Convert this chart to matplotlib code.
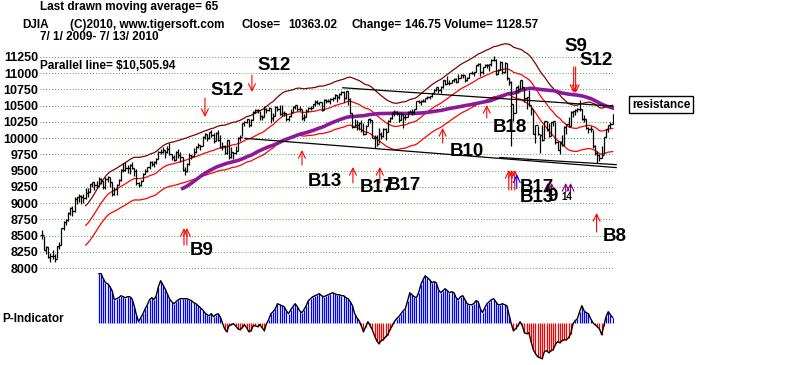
import matplotlib.pyplot as plt
import numpy as np

plt.rcParams['font.family'] = ['Liberation Sans', 'DejaVu Sans']
plt.rcParams['font.weight'] = 'bold'

# DJIA daily bars, 7/1/2009 - 7/13/2010
closes = [
    8504, 8280, 8324, 8163, 8178, 8183, 8146, 8332, 8359, 8616, 8712, 8743, 8848, 8916, 8881, 9069, 9093, 9108, 9096, 9070, 9154, 9172,
    9286, 9320, 9280, 9256, 9370, 9337, 9241, 9362, 9398, 9321, 9135, 9218, 9279, 9350, 9506, 9509, 9539, 9543, 9580, 9544, 9496,
    9310, 9280, 9344, 9441, 9497, 9547, 9627, 9605, 9626, 9683, 9792, 9784, 9820, 9778, 9829, 9748, 9707, 9665, 9789, 9742, 9712,
    9509, 9487, 9599, 9731, 9725, 9786, 9865, 9885, 9871, 10015, 10063, 9996, 10092, 10041, 9949, 10081, 9972, 9868, 9882, 9762, 9962, 9713,
    9789, 9771, 9802, 10005, 10023, 10226, 10247, 10291, 10197, 10270, 10406, 10437, 10426, 10332, 10318, 10450, 10433, 10464, 10309, 10345,
    10471, 10452, 10366, 10389, 10390, 10286, 10337, 10405, 10471, 10501, 10452, 10441, 10308, 10329, 10414, 10464, 10467, 10520, 10547, 10545, 10548, 10428,
    10583, 10572, 10574, 10607, 10618, 10663, 10628, 10681, 10711, 10610, 10725, 10604, 10389, 10173, 10196, 10194, 10236, 10120, 10067,
    10185, 10297, 10270, 10002, 10012, 9908, 10058, 10038, 10144, 10099, 10268, 10309, 10392, 10403, 10383, 10282, 10374, 10321, 10325,
    10403, 10405, 10396, 10444, 10567, 10552, 10564, 10567, 10611, 10625, 10642, 10685, 10733, 10779, 10742, 10785, 10888, 10836, 10841, 10850, 10895, 10907, 10857,
    10927, 10974, 10970, 10897, 10927, 10997, 11005, 11019, 11123, 11144, 11019, 11092, 11117, 11124, 11134, 11204, 11205, 10991, 11045, 11167, 11009,
    11151, 10926, 10868, 10520, 10380, 10785, 10749, 10897, 10782, 10620, 10625, 10510, 10444, 10068, 10193, 10067, 10043, 9975, 10259, 10137,
    10025, 10250, 10255, 9931, 9816, 9940, 9899, 10173, 10212, 10191, 10404, 10410, 10434, 10450, 10443, 10294, 10298, 10152, 10144, 10139, 9870, 9774,
    9732, 9686, 9744, 10018, 10139, 10198, 10216, 10364,
]
highs = [
    8590, 8500, 8340, 8330, 8230, 8270, 8210, 8340, 8400, 8620, 8730, 8760, 8860, 8940, 8950, 9090, 9100, 9140, 9130, 9140, 9230, 9230,
    9300, 9330, 9330, 9340, 9400, 9380, 9340, 9400, 9420, 9400, 9320, 9240, 9300, 9370, 9520, 9620, 9630, 9590, 9600, 9630, 9540,
    9520, 9330, 9360, 9460, 9530, 9560, 9640, 9640, 9640, 9690, 9800, 9830, 9860, 9820, 9880, 9920, 9760, 9740, 9800, 9830, 9790,
    9710, 9560, 9620, 9770, 9740, 9840, 9870, 9920, 9890, 10030, 10070, 10060, 10100, 10120, 10080, 10100, 10120, 10050, 9940, 9900, 9970, 9970,
    9860, 9790, 9880, 10020, 10050, 10230, 10260, 10300, 10300, 10290, 10420, 10440, 10450, 10420, 10350, 10500, 10460, 10480, 10460, 10380,
    10500, 10490, 10510, 10510, 10410, 10390, 10340, 10440, 10490, 10510, 10510, 10500, 10440, 10370, 10440, 10470, 10490, 10520, 10580, 10580, 10560, 10560,
    10600, 10600, 10600, 10620, 10630, 10680, 10660, 10700, 10720, 10730, 10730, 10720, 10620, 10390, 10290, 10270, 10240, 10280, 10230,
    10200, 10300, 10310, 10270, 10040, 10050, 10160, 10100, 10150, 10150, 10270, 10320, 10400, 10430, 10420, 10380, 10400, 10370, 10370,
    10410, 10430, 10440, 10450, 10570, 10580, 10580, 10600, 10620, 10650, 10650, 10700, 10760, 10790, 10790, 10800, 10890, 10890, 10950, 10900, 10900, 10930, 10920,
    10980, 10980, 10990, 10970, 10940, 11000, 11030, 11020, 11130, 11150, 11150, 11100, 11140, 11140, 11140, 11210, 11260, 11210, 11060, 11180, 11170,
    11170, 11150, 10930, 10880, 10520, 10790, 10810, 10900, 10900, 10780, 10630, 10740, 10500, 10440, 10200, 10190, 10050, 10200, 10260, 10260,
    10230, 10250, 10260, 10250, 9950, 9950, 10040, 10180, 10220, 10320, 10410, 10420, 10440, 10460, 10590, 10440, 10350, 10300, 10170, 10180, 10130, 9890,
    9800, 9760, 9880, 10020, 10140, 10200, 10240, 10370,
]
lows = [
    8450, 8270, 8210, 8150, 8090, 8140, 8090, 8150, 8290, 8360, 8590, 8660, 8730, 8810, 8800, 8860, 8980, 9020, 8990, 9000, 9060, 9100,
    9170, 9250, 9200, 9230, 9260, 9290, 9210, 9220, 9320, 9250, 9110, 9130, 9120, 9270, 9340, 9470, 9500, 9460, 9450, 9520, 9420,
    9280, 9250, 9260, 9340, 9440, 9480, 9530, 9570, 9560, 9600, 9680, 9750, 9770, 9700, 9770, 9740, 9660, 9650, 9660, 9700, 9630,
    9500, 9430, 9480, 9590, 9680, 9720, 9770, 9850, 9820, 9880, 9990, 9960, 9980, 10020, 9930, 9950, 9950, 9850, 9820, 9750, 9760, 9680,
    9700, 9680, 9760, 9800, 9960, 10030, 10180, 10230, 10170, 10190, 10270, 10380, 10390, 10280, 10280, 10320, 10390, 10420, 10230, 10260,
    10340, 10420, 10350, 10340, 10340, 10260, 10260, 10330, 10400, 10440, 10410, 10420, 10270, 10260, 10320, 10400, 10430, 10460, 10500, 10530, 10510, 10420,
    10430, 10540, 10550, 10530, 10570, 10600, 10550, 10600, 10660, 10550, 10600, 10510, 10370, 10150, 10170, 10120, 10130, 10100, 10040,
    10060, 10180, 10230, 10000, 9840, 9880, 9920, 9980, 10010, 9970, 10100, 10250, 10290, 10340, 10360, 10250, 10280, 10160, 10270,
    10330, 10380, 10360, 10370, 10450, 10540, 10510, 10550, 10560, 10600, 10600, 10630, 10680, 10730, 10700, 10700, 10770, 10810, 10830, 10810, 10840, 10860, 10850,
    10860, 10920, 10930, 10860, 10870, 10920, 10990, 10950, 11020, 11110, 10960, 10980, 11090, 11080, 11030, 11110, 11180, 10970, 10990, 11040, 10990,
    11000, 10900, 10810, 9870, 10260, 10390, 10690, 10750, 10760, 10550, 10450, 10500, 10360, 10060, 9920, 10050, 9770, 9960, 9980, 10110,
    10010, 10030, 10180, 9910, 9810, 9760, 9880, 9900, 10060, 10170, 10190, 10330, 10350, 10400, 10420, 10280, 10240, 10140, 10070, 10100, 9850, 9740,
    9620, 9640, 9690, 9750, 10010, 10100, 10160, 10220,
]

# P-Indicator, first value on trading day 26
p_start = 26
p_indicator = [
    490, 490, 440, 400, 390, 360, 320, 230, 240, 250,
    270, 260, 250, 260, 260, 240, 170, 80, 10, 50,
    90, 140, 180, 230, 250, 230, 270, 360, 420, 380,
    340, 290, 240, 210, 190, 210, 230, 240, 240, 240,
    240, 230, 220, 200, 190, 170, 150, 130, 100, 80,
    70, 90, 60, 80, 90, 60, 0, -60, -90, -30,
    -20, -10, -30, -60, -70, -50, -20, -50, -90, -80,
    -30, -30, -40, -20, -50, -80, -10, 30, 90, 110,
    140, 190, 180, 170, 160, 120, 90, 130, 160, 190,
    160, 120, 100, 130, 170, 220, 240, 260, 270, 280,
    290, 270, 260, 270, 280, 290, 300, 290, 280, 280,
    270, 270, 250, 240, 210, 170, 90, 50, 20, -30,
    -90, -40, 10, -30, -70, -130, -180, -210, -180, -170,
    -140, -120, -70, -30, 10, 40, 60, 90, 120, 140,
    220, 300, 280, 260, 250, 300, 380, 430, 470, 450,
    430, 400, 410, 400, 330, 300, 320, 340, 320, 300,
    310, 300, 250, 230, 260, 270, 230, 190, 180, 180,
    190, 220, 210, 140, 100, 150, 190, 210, 230, 240,
    210, 180, 180, 190, 180, 170, 80, -10, -80, -60,
    -30, 10, -30, -100, -110, -100, -190, -270, -310, -340,
    -350, -360, -290, -280, -300, -280, -270, -220, -190, -200,
    -180, -170, -170, -150, -110, -10, 20, 40, 110, 170,
    120, 100, 90, 40, 0, -20, -40, -60, -120, -30,
    60, 110, 80, 50,
]

price_ticks = list(range(8000, 11251, 250))

# signal arrows: (day, tail value, head value, colour)
buy_arrows = [(64.6, 8354, 8615, 'red'), (65.9, 8354, 8615, 'red'),
              (118.1, 9585, 9815, 'red'), (141.2, 9308, 9554, 'red'),
              (153.4, 9308, 9554, 'red'), (181.9, 9923, 10154, 'red'),
              (201.9, 10308, 10508, 'red'), (211.9, 9200, 9508, 'red'),
              (213.2, 9200, 9508, 'red'), (214.6, 9200, 9508, 'red'),
              (215.5, 9220, 9440, 'blue'),
              (229.5, 9169, 9308, 'purple'), (231.3, 9169, 9308, 'purple'),
              (237.7, 9169, 9308, 'purple'), (239.9, 9169, 9308, 'purple'),
              (251.7, 8554, 8846, 'red')]
sell_arrows = [(95.4, 10969, 10708), (74.1, 10615, 10323),
               (241.3, 11092, 10692), (242.2, 11092, 10692)]
signal_labels = [('S12', 98.1, 11108), ('S12', 76.4, 10738), ('S9', 237.2, 11415),
                 ('S12', 244.0, 11185), ('B9', 67.3, 8262), ('B13', 120.8, 9338),
                 ('B17', 144.3, 9231), ('B17', 156.6, 9270), ('B10', 185.1, 9785),
                 ('B18', 204.6, 10169), ('B17', 216.8, 9246), ('B13', 216.8, 9092),
                 ('9', 229.5, 9097), ('B8', 254.5, 8492)]

# trend lines (day, value)
trend_low = [(92.2, 9995), (260.6, 9545)]
trend_low2 = [(207.8, 9700), (260.6, 9590)]
trend_high = [(136.6, 10773), (259.0, 10490)]

W, H = 800, 365


def px_box(left, top, right, bottom):
    return [left / W, 1 - bottom / H, (right - left) / W, (bottom - top) / H]


fig = plt.figure(figsize=(8, 3.65), dpi=100)
ax = fig.add_axes(px_box(40, 40, 614, 272))
days = np.arange(len(closes))
closes_a = np.array(closes, dtype=float)
opens = np.r_[closes_a[0], closes_a[:-1]]

for s in ax.spines.values():
    s.set_visible(False)
ax.set_xticks([])
ax.set_yticks(price_ticks)
ax.set_yticklabels([str(t) for t in price_ticks], fontsize=9, fontweight='bold')
ax.tick_params(axis='y', length=0, pad=1)
ax.grid(axis='y', color='#1a8a1a', linestyle=(0, (0.8, 2.2)), linewidth=0.7)

# moving averages and bands
ma21 = np.convolve(closes_a, np.ones(21) / 21, mode='valid')
ma_days = days[20:]
ax.plot(ma_days, ma21, color='red', lw=0.9)
ax.plot(ma_days, ma21 * 0.965, color='red', lw=0.9)
ax.plot(ma_days, ma21 * 1.035, color='#800000', lw=0.9)
ma65 = np.convolve(closes_a, np.ones(65) / 65, mode='valid')
ax.plot(days[64:], ma65, color='#8a1a9a', lw=2.6)

# trend lines
for ln in (trend_low, trend_low2, trend_high):
    ax.plot([p[0] for p in ln], [p[1] for p in ln], color='black', lw=0.9, clip_on=False)

# price bars
ax.vlines(days, lows, highs, color='black', lw=0.9)
ax.hlines(closes, days, days + 0.8, color='black', lw=0.9)
ax.hlines(opens, days - 0.8, days, color='black', lw=0.9)

for d, tail, head, c in buy_arrows:
    ax.annotate('', xy=(d, head), xytext=(d, tail),
                arrowprops=dict(arrowstyle='->,head_length=0.5,head_width=0.25',
                                color=c, lw=0.8, shrinkA=0, shrinkB=0))
for d, tail, head in sell_arrows:
    ax.annotate('', xy=(d, head), xytext=(d, tail),
                arrowprops=dict(arrowstyle='->,head_length=0.5,head_width=0.25',
                                color='red', lw=0.8, shrinkA=0, shrinkB=0))
for txt, d, v in signal_labels:
    ax.text(d, v, txt, fontsize=13.5, fontweight='bold', va='center', ha='left')
ax.text(235.9, 9092, '14', fontsize=7, fontweight='bold', va='center', ha='left')

# P-Indicator panel
pax = fig.add_axes(px_box(40, 268, 614, 365), sharex=ax)
pax.patch.set_alpha(0)
pax.set_ylim(-423, 547)
pax.axis('off')
p = np.array(p_indicator, dtype=float)
pdays = np.arange(p_start, p_start + len(p))
pax.vlines(pdays[p > 0], 0, p[p > 0], color='blue', lw=0.9)
pax.vlines(pdays[p < 0], 0, p[p < 0], color='red', lw=0.9)
pax.plot(pdays, p, color='black', lw=1)
ax.set_xlim(-0.7, 259.6)
ax.set_ylim(7938.5, 11507.7)


# header texts
def fig_text(x, y, s, **kw):
    fig.text(x / W, 1 - y / H, s, va='center', ha='left', fontsize=8.5,
             fontweight='bold', **kw)


fig_text(40, 7, 'Last drawn moving average= 65')
fig_text(22, 25, 'DJIA')
fig_text(70, 25, '(C)2010, www.tigersoft.com')
fig_text(242, 25, 'Close=')
fig_text(288, 25, '10363.02')
fig_text(351, 25, 'Change=')
fig_text(405, 25, '146.75 Volume= 1128.57')
fig_text(40, 37, '7/ 1/ 2009- 7/ 13/ 2010')
fig_text(40, 66, 'Parallel line= $10,505.94')
fig_text(2, 319, 'P-Indicator')
fig.text(661 / W, 1 - 104.5 / H, 'resistance', ha='center', va='center',
         fontsize=8.5, fontweight='bold',
         bbox=dict(boxstyle='square,pad=0.25', fc='white', ec='black', lw=1))

fig.savefig('out.png', dpi=100)
